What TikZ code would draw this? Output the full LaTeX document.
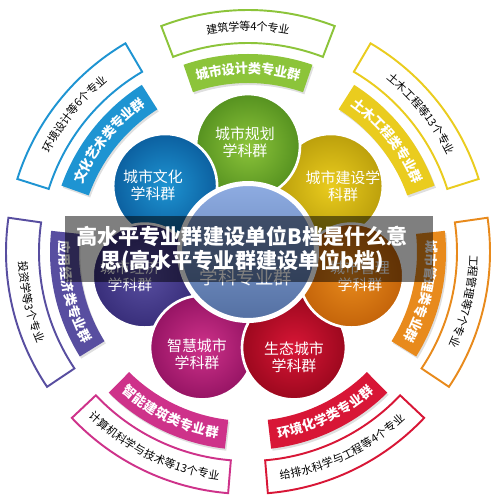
\documentclass[tikz,border=0pt]{standalone}
\usepackage{fontspec}
\setmainfont{Noto Sans CJK SC}
\usepackage{tikz}
\usetikzlibrary{decorations.text, shadows}

\definecolor{grn}{RGB}{140,196,58}
\definecolor{grnd}{RGB}{86,146,32}
\definecolor{ylw}{RGB}{234,204,30}
\definecolor{ylwd}{RGB}{188,160,12}
\definecolor{org}{RGB}{232,138,28}
\definecolor{orgd}{RGB}{196,100,10}
\definecolor{rd}{RGB}{216,22,54}
\definecolor{rdd}{RGB}{156,8,30}
\definecolor{mag}{RGB}{206,50,138}
\definecolor{magd}{RGB}{150,20,100}
\definecolor{pur}{RGB}{88,78,160}
\definecolor{purd}{RGB}{56,46,122}
\definecolor{blu}{RGB}{30,148,210}
\definecolor{blud}{RGB}{12,96,160}
\definecolor{hubl}{RGB}{142,172,226}
\definecolor{hubd}{RGB}{84,112,162}

\newcommand{\bandfont}{\bfseries\fontsize{7.5}{8}\selectfont}
\newcommand{\outfont}{\fontsize{6.3}{7}\selectfont}

% 一组扇形：#1 角度, #2 颜色, #3 内圈文字, #4 外圈文字, #5 方向 (1 顺时针 / -1 逆时针)
\newcommand{\bandpair}[5]{%
    \fill[#2, drop shadow={shadow xshift=0.8pt, shadow yshift=-1.2pt, opacity=0.25}]
        ({#1+19}:198) arc[start angle=#1+19, end angle=#1-19, radius=198]
        -- ({#1-19}:169) arc[start angle=#1-19, end angle=#1+19, radius=169] -- cycle;
    \path[decorate, decoration={text along path, text={|\bandfont|#3}, text align=center, text color=white, raise=-2.8pt}]
        ({#1+(#5)*19}:183.5) arc[start angle=#1+(#5)*19, end angle=#1-(#5)*19, radius=183.5];
    \draw[#2, fill=white, line width=1.1pt]
        ({#1+21}:242) arc[start angle=#1+21, end angle=#1-21, radius=242]
        -- ({#1-21}:209) arc[start angle=#1-21, end angle=#1+21, radius=209] -- cycle;
    \path[decorate, decoration={text along path, text={|\outfont|#4}, text align=center, text color=black, raise=-2.3pt}]
        ({#1+(#5)*21}:225.5) arc[start angle=#1+(#5)*21, end angle=#1-(#5)*21, radius=225.5];
}

\begin{document}
\begin{tikzpicture}[
        x=0.02cm, y=0.02cm,
        disc/.style={circle, draw=white, line width=1.5pt, minimum size=2.08cm, inner sep=0pt, shading=radial},
        disctext/.style={text=white, align=center, font=\fontsize{8.5}{9.7}\selectfont},
        hub/.style={circle, draw=white, line width=0.1cm, minimum size=2.74cm, inner sep=0pt, top color=hubl, bottom color=hubd},
        veil/.style={fill=black, fill opacity=0.5, minimum width=7.36cm, minimum height=1.32cm},
        title/.style={text=white, align=center, font=\bfseries\fontsize{12}{13.7}\selectfont},
    ]
        \useasboundingbox (-248,-248) rectangle (252,252);

        % ====== 外圈：专业群 + 专业 ======
        \bandpair{90}{grn}{城市设计类专业群}{建筑学等4个专业}{1}
        \bandpair{38.57}{ylw}{土木工程类专业群}{土木工程等13个专业}{1}
        \bandpair{-12.86}{org}{城市管理类专业群}{工程管理等7个专业}{1}
        \bandpair{-64.29}{rd}{环境化学类专业群}{给排水科学与工程等4个专业}{-1}
        \bandpair{-115.71}{mag}{智能建筑类专业群}{计算机科学与技术等13个专业}{-1}
        \bandpair{-167.14}{pur}{应用经济类专业群}{投资学等3个专业}{-1}
        \bandpair{141.43}{blu}{文化艺术类专业群}{环境设计等6个专业}{1}

        % ====== 中圈：七个学科群 ======
        \node[disc, inner color=ylw, outer color=ylwd] (build) at (38.57:106) {};
        \node[disc, inner color=grn, outer color=grnd] (plan)  at (90:106) {};
        \node[disc, inner color=blu, outer color=blud] (cult)  at (141.43:106) {};
        \node[disc, inner color=pur, outer color=purd] (econ)  at (-167.14:106) {};
        \node[disc, inner color=mag, outer color=magd] (smart) at (-115.71:106) {};
        \node[disc, inner color=rd,  outer color=rdd]  (eco)   at (-64.29:106) {};
        \node[disc, inner color=org, outer color=orgd] (mgmt)  at (-12.86:106) {};

        % ====== 中心 ======
        \node[hub] (hub) at (0,0) {};
        \node[text=white, font=\fontsize{10.5}{12}\selectfont] (hubtext) at (-2,-25) {学科专业群};

        % 学科群文字
        \node[disctext] (plan-t)  at (-3,110)  {城市规划\\学科群};
        \node[disctext] (build-t) at (95,66)   {城市建设学\\科群};
        \node[disctext] (mgmt-t)  at (112,-24) {城市管理\\学科群};
        \node[disctext] (eco-t)   at (46,-105) {生态城市\\学科群};
        \node[disctext] (smart-t) at (-51,-102) {智慧城市\\学科群};
        \node[disctext] (econ-t)  at (-118,-24) {城市经济\\学科群};
        \node[disctext] (cult-t)  at (-95,67)  {城市文化\\学科群};

        % ====== 标题 ======
        \node[veil] (veil) at (1,3) {};
        \node[title] (title) at (-6,3) {高水平专业群建设单位B档是什么意\\思(高水平专业群建设单位b档)};
    \end{tikzpicture}
\end{document}
